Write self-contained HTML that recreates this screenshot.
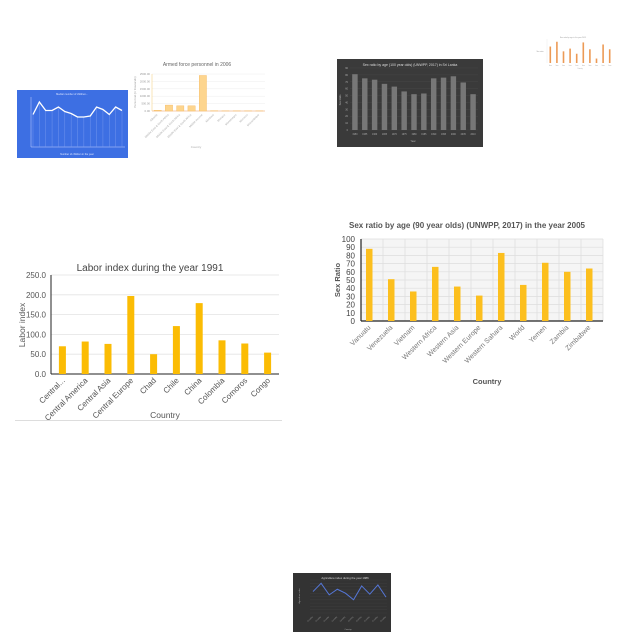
<!DOCTYPE html>
<html><head><meta charset="utf-8"><style>
html,body{margin:0;padding:0;background:#fff;}
svg{display:block;font-family:"Liberation Sans",sans-serif;}
</style></head><body>
<svg id="s" width="640" height="640" viewBox="0 0 640 640"></svg>
<script>
// Chart A: blue line chart
const aValues=[65,90,73,73,80,71,67,60,60,62,80,75,65,80,73];
// Chart B: armed force personnel 2006
const bCats=["Albania","Middle East & North Africa","Middle East & North Africa","Middle East & North Africa","Middle income","Moldova","Monaco","Montenegro","Morocco","Mozambique"];
const bValues=[50,400,350,350,2400,20,10,10,10,10];
const bTicks=["0.00","500.00","1000.00","1500.00","2000.00","2500.00"];
// Chart C: dark sex ratio bars
const cValues=[81,75,73,67,63,56,52,53,75,76,78,69,52];
// Chart D: tiny orange bars
const dValues=[48,62,34,42,27,60,40,13,54,40];
// Chart E: labor index 1991
const eCats=["Central...","Central America","Central Asia","Central Europe","Chad","Chile","China","Colombia","Comoros","Congo"];
const eValues=[70,82,76,197,50,121,179,85,77,54];
const eTicks=["0.0","50.0","100.0","150.0","200.0","250.0"];
// Chart F: sex ratio 2005
const fCats=["Vanuatu","Venezuela","Vietnam","Western Africa","Western Asia","Western Europe","Western Sahara","World","Yemen","Zambia","Zimbabwe"];
const fValues=[88,51,36,66,42,31,83,44,71,60,64];
const fTicks=["0","10","20","30","40","50","60","70","80","90","100"];
// Chart G: dark line chart
const gValues=[65,90,55,72,60,40,82,57,85,48];

const svg=document.getElementById('s');
const NS="http://www.w3.org/2000/svg";
function el(tag,attrs,parent,text){const e=document.createElementNS(NS,tag);for(const k in attrs)e.setAttribute(k,attrs[k]);if(text!==undefined)e.textContent=text;(parent||svg).appendChild(e);return e;}
function lin(d0,d1,r0,r1){return v=>r0+(v-d0)/(d1-d0)*(r1-r0);}

// ---- Chart A
{
const g=el('g',{});


el('rect',{x:17,y:90,width:111,height:68,fill:'#3d6fe3'},g);
el('text',{x:72,y:95,'font-size':2.5,fill:'#dde6ff','text-anchor':'middle'},g,'Median number of children...');
const x=lin(0,aValues.length-1,33,122), y=lin(0,100,147,97);
el('line',{x1:31,y1:97,x2:31,y2:147,stroke:'#c8d6ff','stroke-width':0.5},g);
el('line',{x1:31,y1:147,x2:125,y2:147,stroke:'#c8d6ff','stroke-width':0.5},g);
aValues.forEach((v,i)=>{const l=el('line',{x1:x(i),y1:147,x2:x(i),y2:y(v),stroke:'#7f9ef0','stroke-width':0.4},g);});
const p=el('polyline',{points:aValues.map((v,i)=>x(i)+','+y(v)).join(' '),fill:'none',stroke:'#fff','stroke-width':1.3},g);

const t=el('text',{x:77,y:155,'font-size':2.5,fill:'#dde6ff','text-anchor':'middle'},g,'Number of children in the year');

}
// ---- Chart B
{
const g=el('g',{});


const tt=el('text',{x:197,y:66,'font-size':5,fill:'#666','text-anchor':'middle'},g,'Armed force personnel in 2006');

const y=lin(0,2500,111,74);
bTicks.forEach((t,i)=>{el('line',{x1:152,x2:265,y1:y(i*500),y2:y(i*500),stroke:'#eee','stroke-width':0.5},g);el('text',{x:150,y:y(i*500)+1,'font-size':2.8,fill:'#999','text-anchor':'end'},g,t);});
el('line',{x1:152,y1:74,x2:152,y2:111,stroke:'#f5d58a','stroke-width':0.6},g);
el('line',{x1:152,y1:111,x2:265,y2:111,stroke:'#f5a060','stroke-width':0.6},g);
const bw=113/bCats.length;
bValues.forEach((v,i)=>{const b=el('rect',{x:152+i*bw+2,y:y(v),width:bw-4,height:111-y(v),fill:'#fdd58e',stroke:'#f5b860','stroke-width':0.4},g);
const cx=152+i*bw+bw/2;el('text',{x:cx,y:115,'font-size':2.8,fill:'#aaa','text-anchor':'end',transform:`rotate(-45 ${cx} 115)`},g,bCats[i]);});
el('text',{x:136,y:92,'font-size':2.8,fill:'#999','text-anchor':'middle',transform:'rotate(-90 136 92)'},g,'Personnel (in thousands)');
el('text',{x:196,y:148,'font-size':3,fill:'#aaa','text-anchor':'middle'},g,'Country');
}
// ---- Chart C
{
const g=el('g',{});


el('rect',{x:337,y:59,width:146,height:88,fill:'#3a3a3a'},g);
el('text',{x:410,y:66,'font-size':3.5,fill:'#ddd','text-anchor':'middle'},g,'Sex ratio by age (100 year olds) (UNWPP, 2017) in Sri Lanka');
const y=lin(0,90,130,68);
for(let i=0;i<=9;i++){el('line',{x1:350,x2:478,y1:y(i*10),y2:y(i*10),stroke:'#4a4a4a','stroke-width':0.4},g);el('text',{x:348,y:y(i*10)+1,'font-size':2.5,fill:'#aaa','text-anchor':'end'},g,String(i*10));}
const bw=128/cValues.length;
cValues.forEach((v,i)=>{const b=el('rect',{x:350+i*bw+2.2,y:y(v),width:bw-4.4,height:130-y(v),fill:'#777'},g);
el('text',{x:350+i*bw+bw/2,y:135,'font-size':2.3,fill:'#aaa','text-anchor':'middle'},g,String(1950+i*5));});
el('text',{x:341,y:100,'font-size':2.5,fill:'#bbb','text-anchor':'middle',transform:'rotate(-90 341 100)'},g,'Sex Ratio');
el('text',{x:413,y:142,'font-size':2.5,fill:'#bbb','text-anchor':'middle'},g,'Year');
}
// ---- Chart D
{
const g=el('g',{});


el('text',{x:573,y:38,'font-size':1.8,fill:'#999','text-anchor':'middle'},g,'Sex ratio by age in the year 2015');
const y=lin(0,70,63,39);
el('line',{x1:547,y1:39,x2:547,y2:63,stroke:'#ddd','stroke-width':0.3},g);
const bw=66/dValues.length;
dValues.forEach((v,i)=>{const b=el('rect',{x:547+i*bw+2.5,y:y(v),width:1.6,height:63-y(v),fill:'#ec9a55'},g);
el('text',{x:547+i*bw+3.4,y:66,'font-size':1.5,fill:'#aaa','text-anchor':'middle'},g,'Item');});
el('text',{x:540,y:52,'font-size':1.8,fill:'#999','text-anchor':'middle'},g,'Sex ratio');
el('text',{x:580,y:69,'font-size':1.5,fill:'#aaa','text-anchor':'middle'},g,'Country');
}
// ---- Chart E
{
const g=el('g',{});


const tt=el('text',{x:150,y:271,'font-size':10,fill:'#444','text-anchor':'middle'},g,'Labor index during the year 1991');

const y=lin(0,250,374,275);
eTicks.forEach((t,i)=>{el('line',{x1:51,x2:279,y1:y(i*50),y2:y(i*50),stroke:'#e3e3e3','stroke-width':0.8},g);const l=el('text',{x:46,y:y(i*50)+3,'font-size':8,fill:'#555','text-anchor':'end'},g,t);});
el('line',{x1:51,y1:275,x2:51,y2:374,stroke:'#222','stroke-width':1},g);
el('line',{x1:51,y1:374,x2:279,y2:374,stroke:'#222','stroke-width':1},g);
const bw=228/eCats.length;
eValues.forEach((v,i)=>{const cx=51+i*bw+bw/2;const b=el('rect',{x:cx-3.5,y:y(v),width:7,height:374-y(v),fill:'#fbbc04'},g);
const l=el('text',{x:cx+3,y:381,'font-size':8,fill:'#555','text-anchor':'end',transform:`rotate(-45 ${cx+3} 381)`},g,eCats[i]);});
const yl=el('text',{x:25,y:325,'font-size':8.5,fill:'#555','text-anchor':'middle',transform:'rotate(-90 25 325)'},g,'Labor index');

const xl=el('text',{x:165,y:418,'font-size':8.5,fill:'#555','text-anchor':'middle'},g,'Country');

el('line',{x1:15,y1:420.5,x2:282,y2:420.5,stroke:'#ddd','stroke-width':1},g);
}
// ---- Chart F
{
const g=el('g',{});


const tt=el('text',{x:467,y:228,'font-size':8,'font-weight':'bold',fill:'#555','text-anchor':'middle'},g,'Sex ratio by age (90 year olds) (UNWPP, 2017) in the year 2005');

const y=lin(0,100,321,239);
el('rect',{x:361,y:239,width:242,height:82,fill:'#f5f5f5'},g);
fTicks.forEach((t,i)=>{el('line',{x1:361,x2:603,y1:y(i*10),y2:y(i*10),stroke:'#ddd','stroke-width':0.7},g);const l=el('text',{x:355,y:y(i*10)+3,'font-size':8,fill:'#444','text-anchor':'end'},g,t);});
const bw=242/fCats.length;
for(let i=0;i<=fCats.length;i++)el('line',{x1:361+i*bw,x2:361+i*bw,y1:239,y2:321,stroke:'#ddd','stroke-width':0.7},g);
el('line',{x1:361,y1:239,x2:361,y2:321,stroke:'#222','stroke-width':1.2},g);
el('line',{x1:361,y1:321,x2:603,y2:321,stroke:'#222','stroke-width':1.2},g);
fValues.forEach((v,i)=>{const cx=361+i*bw+bw/2-3;const b=el('rect',{x:cx-3,y:y(v),width:6.5,height:321-y(v),fill:'#fcbf1e'},g);
const l=el('text',{x:cx+2,y:328,'font-size':7,fill:'#777','text-anchor':'end',transform:`rotate(-45 ${cx+2} 328)`},g,fCats[i]);});
const yl=el('text',{x:340,y:280,'font-size':7.5,'font-weight':'bold',fill:'#555','text-anchor':'middle',transform:'rotate(-90 340 280)'},g,'Sex Ratio');

const xl=el('text',{x:487,y:384,'font-size':7.5,'font-weight':'bold',fill:'#555','text-anchor':'middle'},g,'Country');

}
// ---- Chart G
{
const g=el('g',{});


el('rect',{x:293,y:573,width:98,height:59,fill:'#333'},g);
el('text',{x:345,y:579,'font-size':2.8,fill:'#ddd','text-anchor':'middle'},g,'Agriculture index during the year 1986');
const y=lin(0,100,613,580);
for(let i=0;i<=10;i++)el('line',{x1:310,x2:387,y1:y(i*10),y2:y(i*10),stroke:'#444','stroke-width':0.3},g);
const x=lin(0,gValues.length-1,313,386);
const p=el('polyline',{points:gValues.map((v,i)=>x(i)+','+y(v)).join(' '),fill:'none',stroke:'#5577d8','stroke-width':1},g);

gValues.forEach((v,i)=>el('text',{x:x(i),y:617,'font-size':2,fill:'#999','text-anchor':'end',transform:`rotate(-45 ${x(i)} 617)`},g,'Country'));
el('text',{x:300,y:596,'font-size':2,fill:'#aaa','text-anchor':'middle',transform:'rotate(-90 300 596)'},g,'Agriculture index');
el('text',{x:348,y:630,'font-size':2,fill:'#aaa','text-anchor':'middle'},g,'Country');
}
</script>
</body></html>
